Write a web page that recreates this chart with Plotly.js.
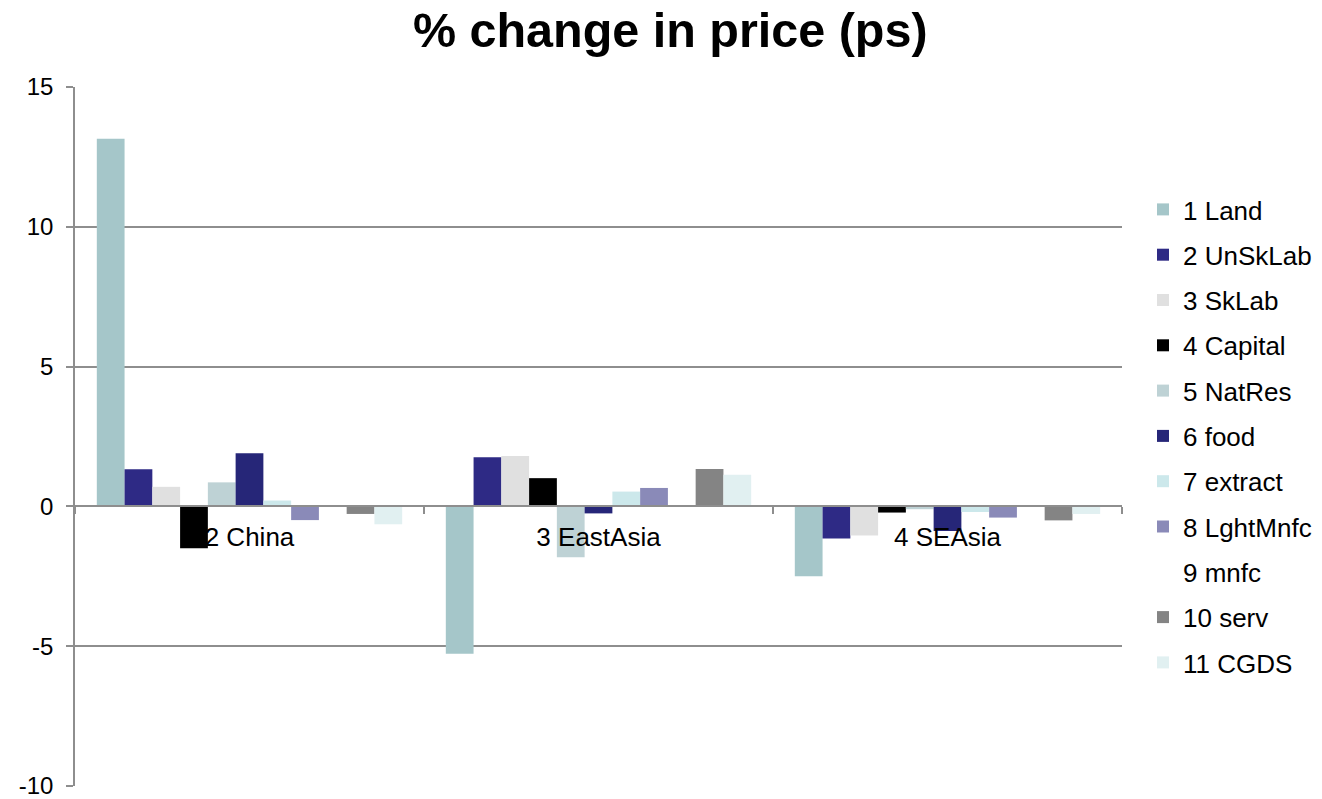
<!DOCTYPE html>
<html>
<head>
<meta charset="utf-8">
<script src="https://cdn.plot.ly/plotly-3.0.1.min.js"></script>
<style>html,body{margin:0;padding:0;background:#fff;}#chart{width:1322px;height:799px;}</style>
</head>
<body>
<div id="chart"></div>
<script>
const regions = ["2 China", "3 EastAsia", "4 SEAsia"];
const seriesNames = ["1 Land", "2 UnSkLab", "3 SkLab", "4 Capital", "5 NatRes", "6 food", "7 extract", "8 LghtMnfc", "9 mnfc", "10 serv", "11 CGDS"];
const land     = [13.15, -5.27, -2.50];
const unSkLab  = [1.33, 1.76, -1.15];
const skLab    = [0.70, 1.80, -1.04];
const capital  = [-1.50, 1.01, -0.22];
const natRes   = [0.86, -1.82, -0.10];
const food     = [1.90, -0.25, -0.88];
const extract  = [0.21, 0.53, -0.20];
const lghtMnfc = [-0.49, 0.66, -0.40];
const mnfc     = [0, 0, 0];
const serv     = [-0.27, 1.34, -0.50];
const cgds     = [-0.64, 1.13, -0.27];
const yTicks = [-10, -5, 0, 5, 10, 15];

const seriesValues = [land, unSkLab, skLab, capital, natRes, food, extract, lghtMnfc, mnfc, serv, cgds];
const colors = ["#A5C6C9", "#2E2A85", "#E0E0E0", "#000000", "#BED2D5", "#262678", "#CCE8EB", "#8A8AB8", "#FFFFFF", "#848484", "#E1F0F1"];

const FONT = "Liberation Sans, Arial, sans-serif";

const traces = seriesNames.map((name, i) => ({
  type: "bar",
  name: name,
  x: regions,
  y: seriesValues[i],
  legendgroup: "g" + i,
  marker: {color: colors[i], line: {width: 0}},
  hoverinfo: "x+y+name"
}));

const layout = {
  width: 1322,
  height: 799,
  paper_bgcolor: "#ffffff",
  plot_bgcolor: "#ffffff",
  margin: {l: 75, r: 200, t: 87, b: 13, pad: 0},
  font: {family: FONT, color: "#000000", size: 26},
  title: {
    text: "<b>% change in price (ps)</b>",
    font: {family: FONT, size: 48.5, color: "#000000"},
    x: 0.507, xref: "container", xanchor: "center",
    y: 1 - 30 / 799, yref: "container", yanchor: "middle"
  },
  barmode: "group",
  bargap: 0.125,
  bargroupgap: 0,
  showlegend: true,
  legend: {
    x: 1143 / 1322, xref: "container", xanchor: "left",
    y: 1 - 186 / 799, yref: "container", yanchor: "top",
    font: {family: FONT, size: 26, color: "#000000"},
    traceorder: "grouped",
    tracegroupgap: 8.5,
    maxheight: 700,
    bgcolor: "rgba(0,0,0,0)",
    borderwidth: 0
  },
  xaxis: {
    type: "category",
    anchor: "free",
    position: 0.4,
    showline: true,
    linecolor: "#8E8E8E",
    linewidth: 1.5,
    ticks: "outside",
    tickson: "boundaries",
    ticklen: 7,
    tickwidth: 1.5,
    tickcolor: "#8E8E8E",
    showgrid: false,
    zeroline: false,
    tickfont: {family: FONT, size: 26, color: "#000000"},
    ticklabelstandoff: 8,
    automargin: false
  },
  yaxis: {
    range: [-10, 15],
    tickvals: yTicks,
    ticktext: yTicks.map(String),
    showline: true,
    linecolor: "#8E8E8E",
    linewidth: 1.5,
    ticks: "outside",
    ticklen: 7,
    tickwidth: 1.5,
    tickcolor: "#8E8E8E",
    showgrid: true,
    gridcolor: "#8E8E8E",
    gridwidth: 1.5,
    zeroline: false,
    tickfont: {family: FONT, size: 24, color: "#000000"},
    ticklabelstandoff: 8,
    ticklabeloverflow: "allow",
    automargin: false
  }
};

Plotly.newPlot("chart", traces, layout, {displayModeBar: false, staticPlot: false});
</script>
</body>
</html>
